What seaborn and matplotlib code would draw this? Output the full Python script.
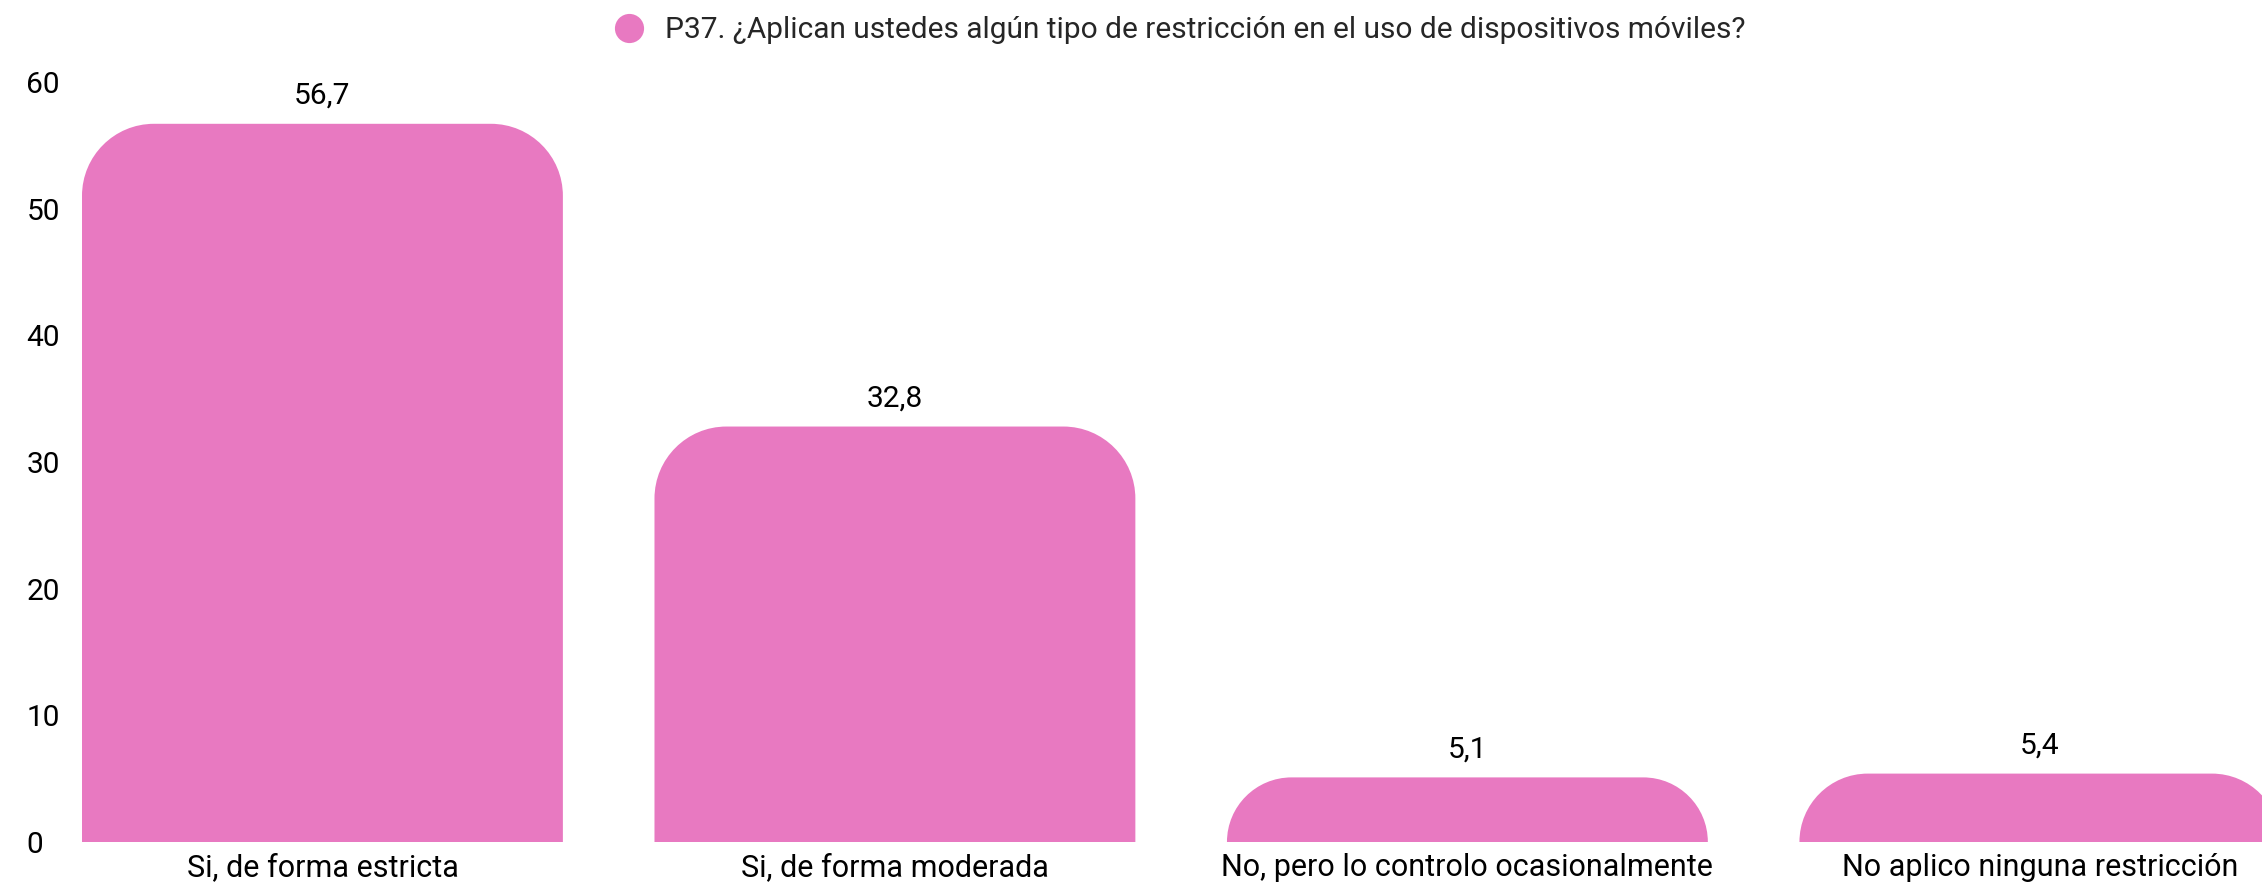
import matplotlib
matplotlib.use("Agg")
import matplotlib.pyplot as plt
from matplotlib.path import Path
from matplotlib.patches import PathPatch
from matplotlib.lines import Line2D
import seaborn as sns
import pandas as pd

# --- data ---
categories = [
    "Si, de forma estricta",
    "Si, de forma moderada",
    "No, pero lo controlo ocasionalmente",
    "No aplico ninguna restricción",
]
values = [56.7, 32.8, 5.1, 5.4]
series_name = "P37. ¿Aplican ustedes algún tipo de restricción en el uso de dispositivos móviles?"
y_ticks = [0, 10, 20, 30, 40, 50, 60]

PINK = "#E879C1"
W, H = 2262, 885
CORNER_PX = 72  # corner radius of bar tops, in pixels

sns.set_theme(style="white")
plt.rcParams['font.family'] = ['Roboto', 'DejaVu Sans']

fig = plt.figure(figsize=(W / 100, H / 100), dpi=100)
ax = fig.add_axes([82 / W, 43 / H, 1 - 82 / W, 760 / H])

df = pd.DataFrame({"categoria": categories, "valor": values})
sns.barplot(data=df, x="categoria", y="valor", color=PINK, saturation=1,
            width=0.84, ax=ax)

ax.set_xlim(-0.42, 3.388)
ax.set_ylim(0, 60)

# pixels per data unit, used to keep the corners circular
px_x = (ax.get_position().width * W) / (ax.get_xlim()[1] - ax.get_xlim()[0])
px_y = (ax.get_position().height * H) / (ax.get_ylim()[1] - ax.get_ylim()[0])

k = 0.5523
for bar in ax.patches:
    x0, w, h = bar.get_x(), bar.get_width(), bar.get_height()
    x1 = x0 + w
    ry = min(CORNER_PX / px_y, h)
    rx = ry * px_y / px_x
    verts = [
        (x0, 0), (x0, h - ry),
        (x0, h - ry + k * ry), (x0 + rx - k * rx, h), (x0 + rx, h),
        (x1 - rx, h),
        (x1 - rx + k * rx, h), (x1, h - ry + k * ry), (x1, h - ry),
        (x1, 0), (x0, 0),
    ]
    codes = [Path.MOVETO, Path.LINETO,
             Path.CURVE4, Path.CURVE4, Path.CURVE4,
             Path.LINETO,
             Path.CURVE4, Path.CURVE4, Path.CURVE4,
             Path.LINETO, Path.CLOSEPOLY]
    ax.add_patch(PathPatch(Path(verts, codes), facecolor=PINK, edgecolor="none"))
    bar.set_visible(False)

# value labels with decimal comma
ax.bar_label(ax.containers[0],
             labels=[f"{v:.1f}".replace(".", ",") for v in values],
             padding=10, fontsize=21.5, color="black")

# axes styling
sns.despine(ax=ax, left=True, bottom=True)
ax.set_xlabel("")
ax.set_ylabel("")
ax.set_yticks(y_ticks)
ax.tick_params(axis="y", length=0, pad=40, labelsize=21.5, labelcolor="black")
ax.tick_params(axis="x", length=0, pad=8, labelsize=22, labelcolor="black")
for lab in ax.get_yticklabels():
    lab.set_horizontalalignment("left")
ax.grid(False)

# legend
handle = Line2D([], [], marker="o", linestyle="none", markersize=21,
                markerfacecolor=PINK, markeredgecolor="none")
ax.legend([handle], [series_name], loc="center", bbox_to_anchor=(0.5, 1.068),
          frameon=False, fontsize=21.5, handletextpad=0.2, borderaxespad=0)

fig.savefig("out.png", dpi=100)
